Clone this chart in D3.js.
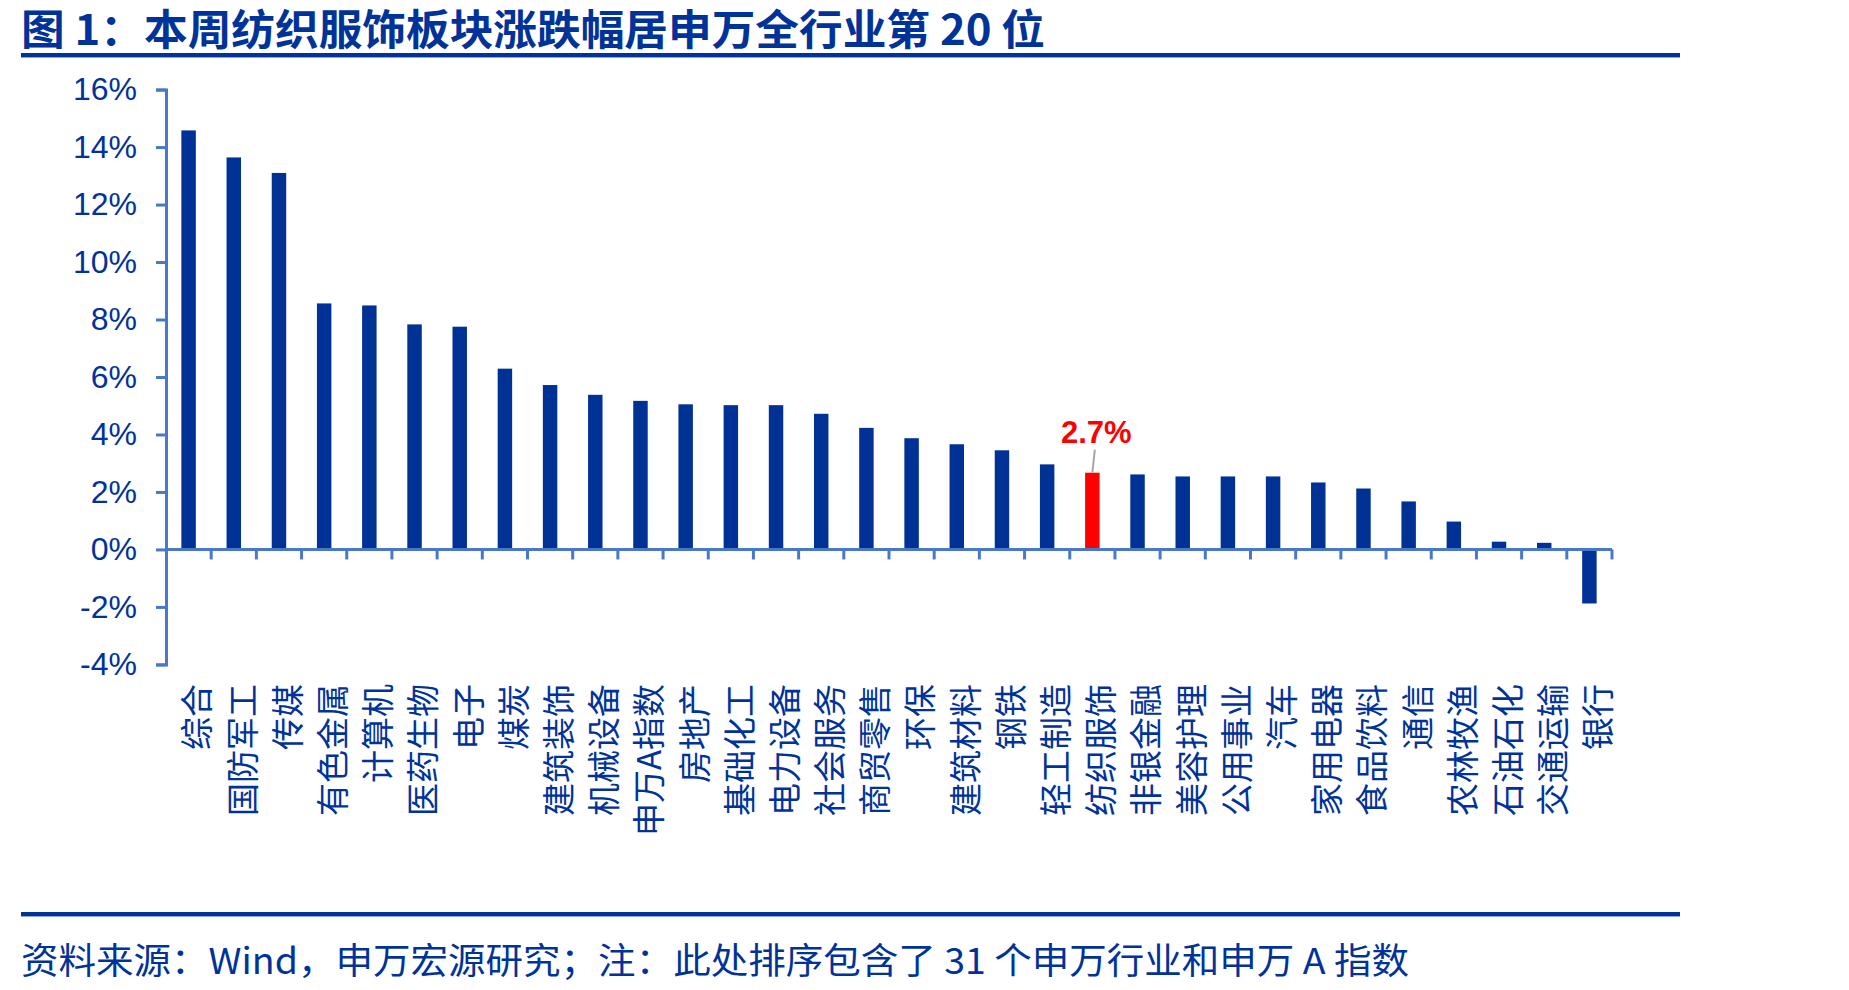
<!DOCTYPE html>
<html><head><meta charset="utf-8">
<script src="https://cdn.jsdelivr.net/npm/d3@7"></script>
<style>
html,body{margin:0;padding:0;background:#fff;}
svg{display:block;}
</style></head>
<body>
<svg id="chart" width="1849" height="990"></svg>
<script>
const titleText = "图 1：本周纺织服饰板块涨跌幅居申万全行业第 20 位";
const footerText = "资料来源：Wind，申万宏源研究；注：此处排序包含了 31 个申万行业和申万 A 指数";
const categories = ["综合","国防军工","传媒","有色金属","计算机","医药生物","电子","煤炭","建筑装饰","机械设备","申万A指数","房地产","基础化工","电力设备","社会服务","商贸零售","环保","建筑材料","钢铁","轻工制造","纺织服饰","非银金融","美容护理","公用事业","汽车","家用电器","食品饮料","通信","农林牧渔","石油石化","交通运输","银行"];
const values = [14.58,13.64,13.1,8.56,8.49,7.83,7.75,6.29,5.72,5.38,5.17,5.05,5.02,5.02,4.72,4.23,3.87,3.66,3.45,2.96,2.67,2.61,2.54,2.54,2.54,2.33,2.12,1.67,0.97,0.27,0.23,-1.88];
const highlight = "纺织服饰";
const highlightLabel = "2.7%";
const yTicks = [-4,-2,0,2,4,6,8,10,12,14,16];

const navy = "#003399", barBlue = "#003194", axisBlue = "#4a78c8";
const svg = d3.select("#chart");

// title
svg.append("text").attr("x",21).attr("y",45)
  .attr("font-family","'Noto Sans CJK SC', sans-serif").attr("font-weight",700)
  .attr("font-size",42).attr("fill",navy)
  .attr("textLength",1024).attr("lengthAdjust","spacingAndGlyphs").text(titleText);
svg.append("rect").attr("x",21).attr("y",53).attr("width",1659).attr("height",4).attr("fill",navy);
svg.append("rect").attr("x",21).attr("y",57).attr("width",1659).attr("height",1).attr("fill","#8aa6da");

// footer
svg.append("rect").attr("x",21).attr("y",912).attr("width",1659).attr("height",4).attr("fill",navy);
svg.append("rect").attr("x",21).attr("y",916).attr("width",1659).attr("height",1).attr("fill","#8aa6da");
svg.append("text").attr("x",21).attr("y",974)
  .attr("font-family","'Noto Sans CJK SC', sans-serif")
  .attr("font-size",36).attr("fill",navy)
  .attr("textLength",1388).attr("lengthAdjust","spacingAndGlyphs").text(footerText);

const x0 = 166, x1 = 1612;
const x = d3.scaleBand().domain(categories).range([x0,x1]).paddingInner(0.68).paddingOuter(0.34);
const y = d3.scaleLinear().domain([-4,16]).range([664.4,89.6]);

// bars
svg.append("g").selectAll("rect").data(categories).join("rect")
  .attr("x",d=>x(d)).attr("width",x.bandwidth())
  .attr("y",(d,i)=>y(Math.max(0,values[i])))
  .attr("height",(d,i)=>Math.abs(y(values[i])-y(0)))
  .attr("fill",d=>d===highlight?"#ff0000":barBlue);

// y axis
const yAxis = d3.axisLeft(y).tickValues(yTicks).tickFormat(d=>d+"%").tickSize(10).tickPadding(19);
const gy = svg.append("g").attr("transform",`translate(${x0},0)`).call(yAxis);
gy.select(".domain").attr("stroke",axisBlue).attr("stroke-width",3);
gy.selectAll(".tick line").attr("stroke",axisBlue).attr("stroke-width",3);
gy.selectAll(".tick text").attr("font-family","'Liberation Sans', Arial, sans-serif")
  .attr("font-size",32).attr("fill",navy);

// x axis line at zero
const step = x.step();
const boundaries = d3.range(categories.length+1).map(i=>x0 + i*step);
svg.append("line").attr("x1",x0).attr("x2",x1).attr("y1",y(0)).attr("y2",y(0))
  .attr("stroke",axisBlue).attr("stroke-width",3);
svg.append("g").selectAll("line").data(boundaries.slice(1)).join("line")
  .attr("x1",d=>d).attr("x2",d=>d).attr("y1",y(0)).attr("y2",y(0)+10)
  .attr("stroke",axisBlue).attr("stroke-width",3);

// category labels
svg.append("g").selectAll("text").data(categories).join("text")
  .attr("transform",d=>`translate(${x(d)+x.bandwidth()/2+9},684) rotate(-90)`)
  .attr("text-anchor","end").attr("dy","0.36em")
  .attr("font-family","'Noto Sans CJK SC', sans-serif")
  .attr("font-size",33).attr("fill",navy).text(d=>d);

// highlight label + leader
const hi = categories.indexOf(highlight);
const hx = x(highlight)+x.bandwidth()/2;
svg.append("line").attr("x1",hx+2.5).attr("y1",y(values[hi])-23).attr("x2",hx).attr("y2",y(values[hi]))
  .attr("stroke","#a6a6a6").attr("stroke-width",2);
svg.append("text").attr("x",hx+4).attr("y",y(values[hi])-30).attr("text-anchor","middle")
  .attr("font-family","'Liberation Sans', Arial, sans-serif").attr("font-weight",700)
  .attr("font-size",31).attr("fill","#ff0000").text(highlightLabel);
</script>
</body></html>
